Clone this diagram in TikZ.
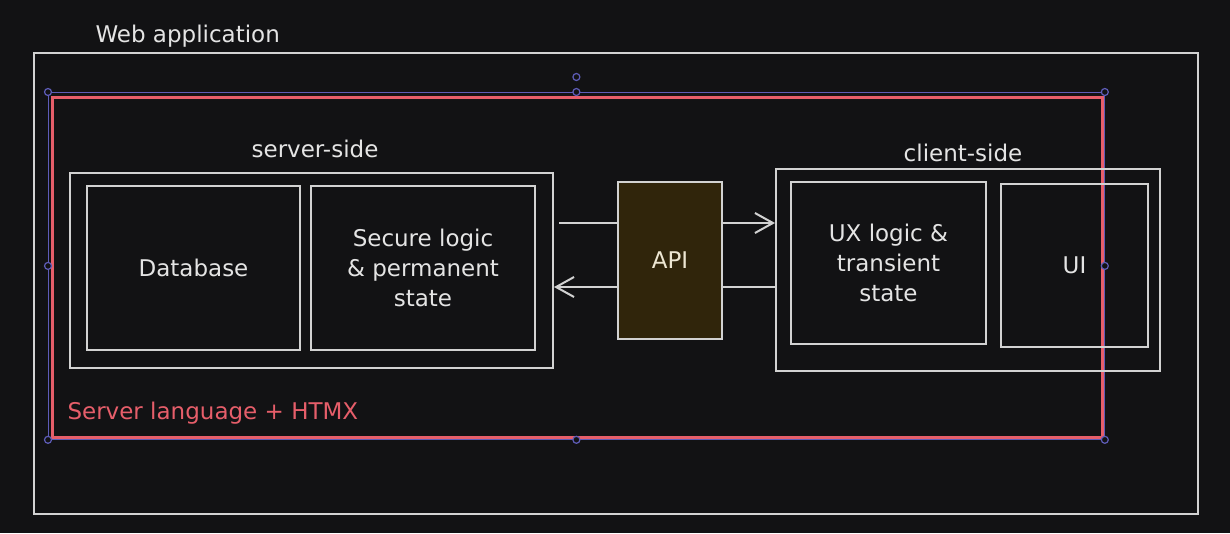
\documentclass[tikz,border=0pt]{standalone}
\usepackage{fontspec}
\setmainfont{DejaVu Sans}
\usetikzlibrary{arrows.meta}
\definecolor{bg}{HTML}{121214}
\definecolor{ln}{HTML}{D2D2D2}
\definecolor{tx}{HTML}{E4E4E4}
\definecolor{rd}{HTML}{E65E6A}
\definecolor{sel}{HTML}{5E5CB8}
\definecolor{apifill}{HTML}{30250B}
\definecolor{apitx}{HTML}{EDE6D2}
\tikzset{
  box/.style={draw=ln, line width=2pt, anchor=north west, inner sep=0pt},
  lbl/.style={text=tx, font=\fontsize{23}{30}\selectfont, align=center},
  arr/.style={draw=ln, line width=2pt, -{Straight Barb[length=18pt,width=20pt,line width=2pt]}},
  handle/.style={circle, draw=sel, fill=bg, line width=1.2pt, inner sep=0pt, minimum size=7pt},
}
\begin{document}
\begin{tikzpicture}[x=1pt,y=-1pt]
\fill[bg] (0,0) rectangle (1230,533);
\useasboundingbox (0,0) rectangle (1230,533);

% outer web application
\node[box, minimum width=1164pt, minimum height=461pt] (web) at (33,52) {};
\node[lbl, anchor=base west] (weblbl) at (92,42) {Web application};

% red HTMX region and selection
\node[draw=rd, line width=2.5pt, anchor=north west, minimum width=1050pt, minimum height=340pt, inner sep=0pt] (htmx) at (51,96) {};
\node[text=rd, font=\fontsize{23}{30}\selectfont, anchor=base west] (htmxlbl) at (64,419) {Server language + HTMX};
\node[draw=sel, line width=0.8pt, anchor=north west, minimum width=1056pt, minimum height=347pt, inner sep=0pt] (sel) at (48,92) {};

% server side
\node[box, minimum width=483pt, minimum height=195pt] (srv) at (69,172) {};
\node[lbl, anchor=base] (srvlbl) at (315,157) {server-side};
\node[box, minimum width=213pt, minimum height=164pt] (db) at (86,185) {};
\node[lbl] (dbt) at (db.center) {Database};
\node[box, minimum width=224pt, minimum height=164pt] (sec) at (310,185) {};
\node[lbl] (sect) at (sec.center) {Secure logic\\\& permanent\\state};

% client side
\node[box, minimum width=384pt, minimum height=202pt] (cli) at (775,168) {};
\node[lbl, anchor=base] (clilbl) at (963,161) {client-side};
\node[box, minimum width=195pt, minimum height=162pt] (ux) at (790,181) {};
\node[lbl] (uxt) at (ux.center) {UX logic \&\\transient\\state};
\node[box, minimum width=147pt, minimum height=163pt] (ui) at (1000,183) {};
\node[lbl] (uit) at (ui.center) {UI};

% arrows
\coordinate (a1) at ([xshift=5pt,yshift=47.5pt]srv.east);
\coordinate (a2) at ([yshift=-17pt]cli.west);
\draw[arr] (a1) -- (cli.west |- a1);
\draw[arr] (a2) -- (srv.east |- a2);

% API
\node[box, fill=apifill, minimum width=104pt, minimum height=157pt] (api) at (617,181) {};
\node[lbl, text=apitx] (apit) at (api.center) {API};

% selection handles
\node[handle] (h1) at (sel.north west) {};
\node[handle] (h2) at (sel.north) {};
\node[handle] (h3) at (sel.north east) {};
\node[handle] (h4) at (sel.west) {};
\node[handle] (h5) at (sel.east) {};
\node[handle] (h6) at (sel.south west) {};
\node[handle] (h7) at (sel.south) {};
\node[handle] (h8) at (sel.south east) {};
\node[handle] (hr) at ([yshift=15pt]sel.north) {};
\end{tikzpicture}
\end{document}
